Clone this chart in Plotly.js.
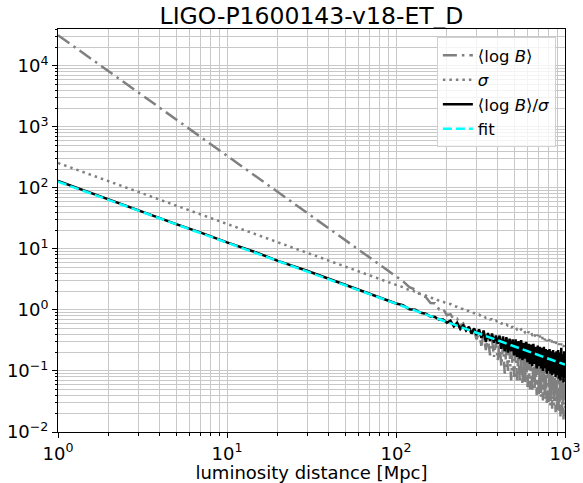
<!DOCTYPE html>
<html>
<head>
<meta charset="utf-8">
<script src="https://cdn.plot.ly/plotly-3.0.1.min.js"></script>
<style>html,body{margin:0;padding:0;background:#fff;}#chart{width:583px;height:483px;}</style>
</head>
<body>
<div id="chart"></div>
<script>
// luminosity distance [Mpc]
const distance = [1, 1.5, 2, 3, 5, 7, 10, 15, 20, 30, 50, 70, 100,
  110, 120, 130, 140, 150, 160, 170, 180, 190, 200,
  210, 220, 230, 240, 250, 260, 270, 280, 290, 300,
  310, 320, 330, 340, 350, 360, 370, 380, 390, 400,
  410, 420, 430, 440, 450, 460, 470, 480, 490, 500,
  510, 520, 530, 540, 550, 560, 570, 580, 590, 600,
  610, 620, 630, 640, 650, 660, 670, 680, 690, 700,
  710, 720, 730, 740, 750, 760, 770, 780, 790, 800,
  810, 820, 830, 840, 850, 860, 870, 880, 890, 900,
  910, 920, 930, 940, 950, 960, 970, 980, 990, 1000];

// <log B>
const meanLogB = [32000, 14340, 8110, 3630, 1320, 680, 335, 151, 85, 38, 13.8, 7.1, 3.51,
  2.95, 2.36, 2.16, 1.72, 1.63, 1.30, 1.29, 1.02, 1.04, 0.82,
  0.85, 0.70, 0.72, 0.55, 0.60, 0.47, 0.52, 0.40, 0.46, 0.33,
  0.44, 0.26, 0.40, 0.22, 0.36, 0.18, 0.33, 0.17, 0.30, 0.15,
  0.29, 0.12, 0.27, 0.09, 0.25, 0.10, 0.22, 0.07, 0.21, 0.08,
  0.21, 0.07, 0.20, 0.065, 0.19, 0.06, 0.18, 0.065, 0.17, 0.055,
  0.16, 0.05, 0.15, 0.045, 0.145, 0.048, 0.14, 0.04, 0.13, 0.042,
  0.125, 0.037, 0.12, 0.033, 0.11, 0.034, 0.105, 0.03, 0.10, 0.031,
  0.095, 0.027, 0.09, 0.024, 0.088, 0.027, 0.082, 0.021, 0.085, 0.023,
  0.08, 0.021, 0.078, 0.018, 0.085, 0.02, 0.072, 0.016, 0.075, 0.018];

// sigma
const sigma = [257, 171, 128, 86, 51.5, 36.8, 25.8, 17.2, 12.9, 8.6, 5.15, 3.68, 2.58,
  2.36, 2.12, 2.01, 1.82, 1.73, 1.59, 1.53, 1.41, 1.37, 1.27,
  1.25, 1.15, 1.13, 1.05, 1.04, 0.97, 0.96, 0.90, 0.89, 0.84,
  0.84, 0.79, 0.80, 0.74, 0.75, 0.70, 0.71, 0.66, 0.67, 0.63,
  0.64, 0.60, 0.61, 0.57, 0.58, 0.55, 0.56, 0.52, 0.53, 0.50,
  0.52, 0.48, 0.50, 0.46, 0.48, 0.44, 0.46, 0.43, 0.45, 0.41,
  0.44, 0.40, 0.42, 0.39, 0.41, 0.37, 0.40, 0.36, 0.39, 0.35,
  0.38, 0.34, 0.37, 0.33, 0.36, 0.32, 0.35, 0.31, 0.34, 0.31,
  0.33, 0.30, 0.32, 0.29, 0.32, 0.29, 0.31, 0.28, 0.30, 0.28,
  0.29, 0.27, 0.29, 0.26, 0.28, 0.26, 0.27, 0.25, 0.27, 0.25];

// <log B>/sigma
const ratio = [130, 86, 64.5, 43.5, 25.6, 18.5, 12.8, 8.7, 6.4, 4.35, 2.56, 1.85, 1.28,
  1.20, 1.03, 1.01, 0.90, 0.87, 0.78, 0.77, 0.69, 0.70, 0.62,
  0.67, 0.54, 0.62, 0.49, 0.56, 0.46, 0.53, 0.41, 0.50, 0.39,
  0.48, 0.35, 0.46, 0.30, 0.42, 0.31, 0.41, 0.29, 0.38, 0.28,
  0.38, 0.23, 0.37, 0.21, 0.36, 0.20, 0.34, 0.21, 0.33, 0.18,
  0.33, 0.17, 0.31, 0.16, 0.32, 0.15, 0.29, 0.16, 0.30, 0.14,
  0.28, 0.13, 0.27, 0.12, 0.28, 0.13, 0.25, 0.11, 0.26, 0.12,
  0.25, 0.11, 0.24, 0.10, 0.25, 0.11, 0.23, 0.09, 0.22, 0.10,
  0.23, 0.09, 0.21, 0.085, 0.22, 0.09, 0.20, 0.08, 0.21, 0.085,
  0.22, 0.075, 0.20, 0.07, 0.24, 0.08, 0.19, 0.065, 0.21, 0.075];

// fit
const fitDistance = [1, 10, 100, 1000];
const fitValues = [127, 12.8, 1.28, 0.127];

// tick labels
const xTickVals = [1, 10, 100, 1000];
const xTickText = ['10<sup>0</sup>', '10<sup>1</sup>', '10<sup>2</sup>', '10<sup>3</sup>'];
const yTickVals = [0.01, 0.1, 1, 10, 100, 1000, 10000];
const yTickText = ['10<sup>\u22122</sup>', '10<sup>\u22121</sup>', '10<sup>0</sup>', '10<sup>1</sup>', '10<sup>2</sup>', '10<sup>3</sup>', '10<sup>4</sup>'];

function minorTicks(lo, hi) {
  const v = [];
  for (let k = lo; k < hi; k++) for (let m = 2; m <= 9; m++) v.push(m * Math.pow(10, k));
  return v;
}

const gridColor = '#c8c8c8';
const font = 'DejaVu Sans, sans-serif';

const traces = [
  {x: distance, y: meanLogB, type: 'scatter', mode: 'lines', name: '\u27E8log <i>B</i>\u27E9',
   line: {color: '#808080', width: 2.5, dash: '14px,5px,2.5px,5px'}},
  {x: distance, y: sigma, type: 'scatter', mode: 'lines', name: '<i>\u03C3</i>',
   line: {color: '#808080', width: 2.5, dash: '2.5px,4px'}},
  {x: distance, y: ratio, type: 'scatter', mode: 'lines', name: '\u27E8log <i>B</i>\u27E9/<i>\u03C3</i>',
   line: {color: '#000000', width: 2.5}},
  {x: fitDistance, y: fitValues, type: 'scatter', mode: 'lines', name: 'fit',
   line: {color: '#00ffff', width: 2.5, dash: '9px,4px'}}
];

const axisCommon = {
  type: 'log', showline: true, mirror: true, linecolor: '#000', linewidth: 1,
  ticks: 'outside', ticklen: 5, tickcolor: '#000', tickwidth: 1,
  showgrid: true, gridcolor: gridColor, gridwidth: 1, zeroline: false,
  tickfont: {family: font, size: 18, color: '#000'}, tickmode: 'array'
};

const layout = {
  width: 583, height: 483,
  margin: {l: 58, r: 18, t: 29, b: 51},
  paper_bgcolor: '#fff', plot_bgcolor: '#fff',
  font: {family: font, color: '#000'},
  title: {text: 'LIGO-P1600143-v18-ET_D', font: {family: font, size: 23.5, color: '#000'},
          xref: 'paper', x: 0.5, xanchor: 'center', yref: 'container', y: 0.968, yanchor: 'middle'},
  xaxis: Object.assign({}, axisCommon, {
    range: [0, 3], tickvals: xTickVals, ticktext: xTickText, ticklabelstandoff: 0,
    minor: {tickmode: 'array', tickvals: minorTicks(0, 3), showgrid: true, gridcolor: gridColor, ticks: 'outside', ticklen: 2.5, tickcolor: '#000'},
    title: {text: 'luminosity distance [Mpc]', font: {family: font, size: 18, color: '#000'}, standoff: 2}
  }),
  yaxis: Object.assign({}, axisCommon, {
    range: [-2, 4.606], tickvals: yTickVals, ticktext: yTickText,
    minor: {tickmode: 'array', tickvals: minorTicks(-2, 5), showgrid: true, gridcolor: gridColor, ticks: 'outside', ticklen: 2.5, tickcolor: '#000'}
  }),
  legend: {x: 0.982, y: 0.98, xanchor: 'right', yanchor: 'top',
           bgcolor: 'rgba(255,255,255,0.8)', bordercolor: '#d0d0d0', borderwidth: 1,
           font: {family: font, size: 16.5, color: '#000'}, tracegroupgap: 0},
  showlegend: true
};

Plotly.newPlot('chart', traces, layout, {staticPlot: true, displayModeBar: false});
</script>
</body>
</html>
